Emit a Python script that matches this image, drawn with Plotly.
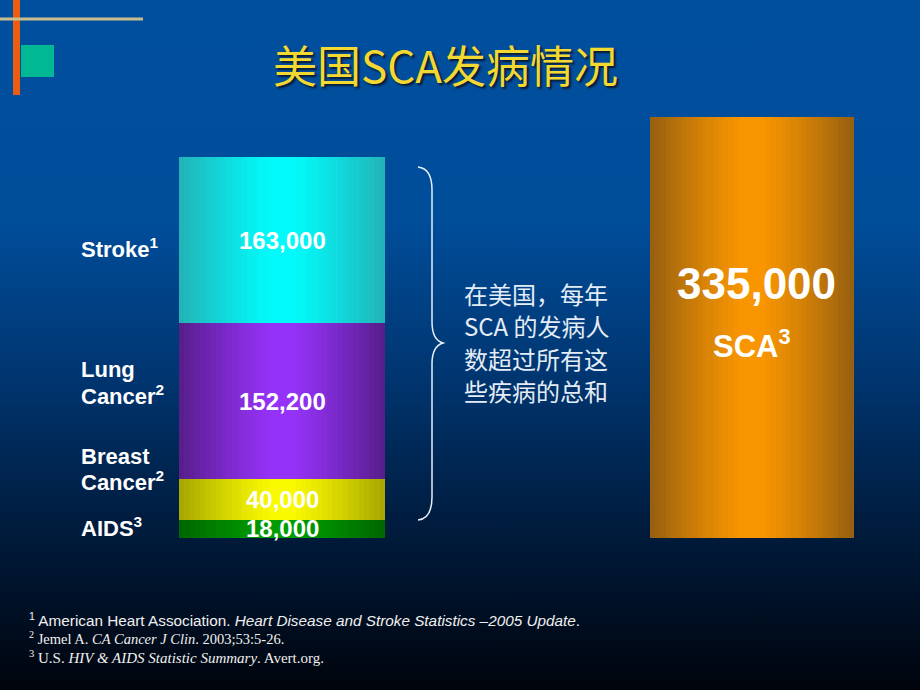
import base64
import plotly.graph_objects as go

# ---------------- data ----------------
categories = ["AIDS", "Breast Cancer", "Lung Cancer", "Stroke"]
cat_refs = ["3", "2", "2", "1"]
cases = [18000, 40000, 152200, 163000]
sca_label = "SCA"
sca_ref = "3"
sca_cases = [335000]
note_lines = ["在美国，每年", "SCA 的发病人", "数超过所有这", "些疾病的总和"]

# ---------------- style ----------------
W, H = 920, 690
seg_edge = ["#006800", "#a8a800", "#581e8c", "#22b4b8"]
seg_center = ["#00a000", "#ffff00", "#9933ff", "#00ffff"]
sca_edge, sca_center = "#98600f", "#ff9900"
N_LAYERS = 18


def px(x):
    return x / W


def py(y):
    return 1 - y / H


def hex2rgb(h):
    h = h.lstrip("#")
    return tuple(int(h[i:i + 2], 16) for i in (0, 2, 4))


def mix(c1, c2, t):
    a, b = hex2rgb(c1), hex2rgb(c2)
    return "rgb(%d,%d,%d)" % tuple(round(a[i] + (b[i] - a[i]) * t) for i in range(3))


# axis scales: left stack baseline at y=538px, top at 157px; right bar top at 117px
base_px = 538
left_top_px, right_top_px = 157, 117
total = sum(cases)
k1 = (base_px - left_top_px) / total
k2 = (base_px - right_top_px) / sca_cases[0]
y1_range = [-(H - base_px) / k1, base_px / k1]
y2_range = [-(H - base_px) / k2, base_px / k2]

bases = []
acc = 0
for v in cases:
    bases.append(acc)
    acc += v

xL, wL = 282, 206
xR, wR = 752, 204

fig = go.Figure()

for i in range(N_LAYERS):
    f = 1 - i / N_LAYERS * 0.92
    t = f ** 1.3
    fig.add_trace(go.Bar(
        x=[xL] * len(cases), y=cases, base=bases, width=wL * f,
        marker=dict(color=[mix(c, e, t) for c, e in zip(seg_center, seg_edge)], line=dict(width=0)),
        hoverinfo="skip", yaxis="y", showlegend=False,
    ))
    fig.add_trace(go.Bar(
        x=[xR], y=sca_cases, base=[0], width=wR * f,
        marker=dict(color=mix(sca_center, sca_edge, t), line=dict(width=0)),
        hoverinfo="skip", yaxis="y2", showlegend=False,
    ))

# background gradient
svg = (
    '<svg xmlns="http://www.w3.org/2000/svg" width="920" height="690" preserveAspectRatio="none">'
    '<defs><linearGradient id="g" x1="0" y1="0" x2="0" y2="1">'
    '<stop offset="0" stop-color="#004f9e"/>'
    '<stop offset="0.32" stop-color="#004d9a"/>'
    '<stop offset="0.55" stop-color="#00356f"/>'
    '<stop offset="0.75" stop-color="#001d40"/>'
    '<stop offset="1" stop-color="#00040c"/>'
    '</linearGradient></defs><rect width="920" height="690" fill="url(#g)"/></svg>'
)
bg = "data:image/svg+xml;base64," + base64.b64encode(svg.encode()).decode()

shapes = []
# top-left decoration
shapes.append(dict(type="rect", xref="paper", yref="paper", x0=px(13), x1=px(20), y0=py(95), y1=py(0),
                   fillcolor="#ee5c12", line=dict(width=0), layer="above"))
shapes.append(dict(type="line", xref="paper", yref="paper", x0=px(0), x1=px(143), y0=py(19), y1=py(19),
                   line=dict(color="#c8bd8c", width=3), layer="above"))
shapes.append(dict(type="rect", xref="paper", yref="paper", x0=px(21), x1=px(54), y0=py(77), y1=py(45),
                   fillcolor="#00b894", line=dict(width=0), layer="above"))

# brace
pts = [("M", [(418, 167)]), ("C", [(428, 168), (432, 176), (432, 190)]), ("L", [(432, 322)]),
       ("C", [(432, 334), (436, 341), (443, 343)]), ("C", [(436, 345), (432, 352), (432, 364)]),
       ("L", [(432, 497)]), ("C", [(432, 511), (428, 519), (418, 520)])]
path = " ".join(cmd + " " + " ".join("%.5f,%.5f" % (px(x), py(y)) for x, y in p) for cmd, p in pts)
shapes.append(dict(type="path", xref="paper", yref="paper", path=path,
                   line=dict(color="#e6eef8", width=1.5), layer="above"))

ann = []
ann.append(dict(x=px(445), y=py(64), xref="paper", yref="paper", text="美国SCA发病情况", showarrow=False,
                xanchor="center", yanchor="middle",
                font=dict(family="Noto Sans CJK SC", size=44, color="#f4d832", shadow="2px 2px 2px #0a1a30")))

lab_font = dict(family="Liberation Sans", size=22, color="white", weight="bold")
labels = [("Stroke<sup>1</sup>", 248), ("Lung", 369), ("Cancer<sup>2</sup>", 395),
          ("Breast", 456), ("Cancer<sup>2</sup>", 481), ("AIDS<sup>3</sup>", 527)]
for txt, yy in labels:
    ann.append(dict(x=px(79), y=py(yy), xref="paper", yref="paper", text=txt, showarrow=False,
                    xanchor="left", yanchor="middle", font=lab_font))

for v, b in zip(cases, bases):
    ann.append(dict(x=xL, y=b + v / 2, xref="x", yref="y", text=f"{v:,}", showarrow=False,
                    xanchor="center", yanchor="middle",
                    font=dict(family="Liberation Sans", size=24, color="white", weight="bold")))

ann.append(dict(x=px(xR + 4), y=py(283), xref="paper", yref="paper", text=f"{sca_cases[0]:,}", showarrow=False,
                xanchor="center", yanchor="middle",
                font=dict(family="Liberation Sans", size=44, color="white", weight="bold")))
ann.append(dict(x=px(xR), y=py(344), xref="paper", yref="paper", text=f"{sca_label}<sup>{sca_ref}</sup>",
                showarrow=False, xanchor="center", yanchor="middle",
                font=dict(family="Liberation Sans", size=31, color="white", weight="bold")))

for line, yy in zip(note_lines, [293, 325.5, 358, 390.5]):
    ann.append(dict(x=px(462), y=py(yy), xref="paper", yref="paper", text=line,
                    showarrow=False, xanchor="left", yanchor="middle", align="left",
                    font=dict(family="Noto Sans CJK SC", size=24, color="#e4ecf6")))

ann.append(dict(x=px(27), y=py(619), xref="paper", yref="paper",
                text="<sup>1</sup> American Heart Association. <i>Heart Disease and Stroke Statistics –2005 Update</i>.",
                showarrow=False, xanchor="left", yanchor="middle",
                font=dict(family="Liberation Sans", size=15.3, color="#f0f0f0")))
ann.append(dict(x=px(27), y=py(638), xref="paper", yref="paper",
                text="<sup>2</sup> Jemel A. <i>CA Cancer J Clin</i>. 2003;53:5-26.",
                showarrow=False, xanchor="left", yanchor="middle",
                font=dict(family="Liberation Serif", size=14.5, color="#f0f0f0")))
ann.append(dict(x=px(27), y=py(657), xref="paper", yref="paper",
                text="<sup>3</sup> U.S. <i>HIV &amp; AIDS Statistic Summary</i>. Avert.org.",
                showarrow=False, xanchor="left", yanchor="middle",
                font=dict(family="Liberation Serif", size=15, color="#f0f0f0")))

fig.update_layout(
    width=W, height=H, margin=dict(l=0, r=0, t=0, b=0),
    barmode="overlay", bargap=0,
    paper_bgcolor="#00204a", plot_bgcolor="rgba(0,0,0,0)",
    xaxis=dict(range=[0, W], visible=False, fixedrange=True),
    yaxis=dict(range=y1_range, visible=False, fixedrange=True),
    yaxis2=dict(range=y2_range, visible=False, overlaying="y", fixedrange=True),
    images=[dict(source=bg, xref="paper", yref="paper", x=0, y=1, sizex=1, sizey=1,
                 sizing="stretch", xanchor="left", yanchor="top", layer="below")],
    shapes=shapes, annotations=ann, showlegend=False,
)

fig.write_html("out.html", config={"displayModeBar": False},
               post_script="document.body.style.margin='0';document.body.style.padding='0';")
